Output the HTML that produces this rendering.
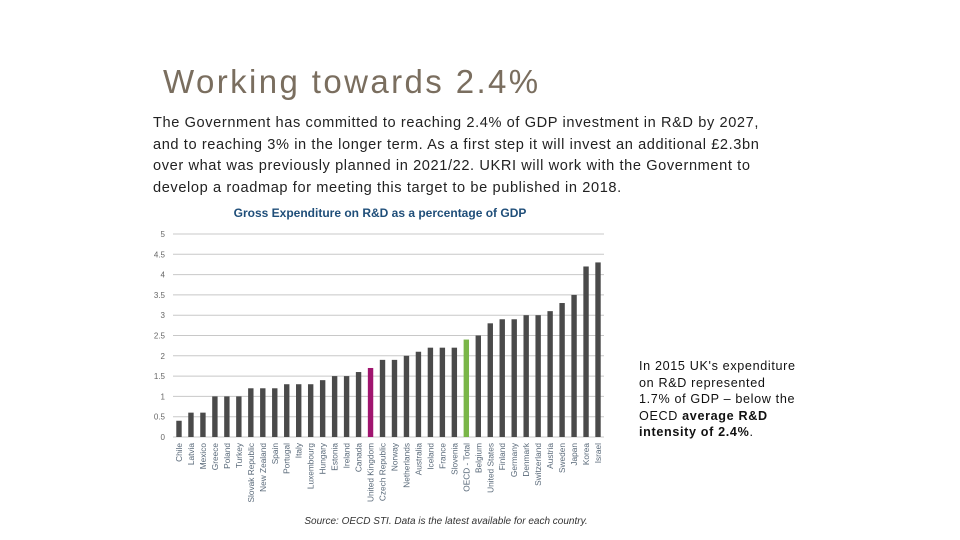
<!DOCTYPE html>
<html><head><meta charset="utf-8"><style>
body{margin:0;background:#fff;width:960px;height:540px;overflow:hidden;position:relative;font-family:"Liberation Sans",sans-serif}
#title{position:absolute;left:163px;top:63px;font-size:33px;color:#7a6e5f;margin:0;font-weight:normal;letter-spacing:2.4px;white-space:nowrap}
#body{position:absolute;left:153px;top:113px;width:625px;font-size:14.6px;line-height:21.6px;color:#222;letter-spacing:0.6px}
#note{position:absolute;left:639px;top:358px;width:190px;font-size:12.6px;line-height:16.6px;color:#111;letter-spacing:0.65px;white-space:nowrap}
svg{position:absolute;left:0;top:0}
</style></head><body>
<h1 id="title">Working towards 2.4%</h1>
<div id="body">The Government has committed to reaching 2.4% of GDP investment in R&amp;D by 2027, and to reaching 3% in the longer term. As a first step it will invest an additional £2.3bn over what was previously planned in 2021/22. UKRI will work with the Government to develop a roadmap for meeting this target to be published in 2018.</div>
<div id="note">In 2015 UK's expenditure<br>on R&amp;D represented<br>1.7% of GDP – below the<br>OECD <b>average R&amp;D</b><br><b>intensity of 2.4%</b>.</div>
<svg id="chart" width="960" height="540"></svg>
<script>
const categories=["Chile","Latvia","Mexico","Greece","Poland","Turkey","Slovak Republic","New Zealand","Spain","Portugal","Italy","Luxembourg","Hungary","Estonia","Ireland","Canada","United Kingdom","Czech Republic","Norway","Netherlands","Australia","Iceland","France","Slovenia","OECD - Total","Belgium","United States","Finland","Germany","Denmark","Switzerland","Austria","Sweden","Japan","Korea","Israel"];
const values=[0.4,0.6,0.6,1.0,1.0,1.0,1.2,1.2,1.2,1.3,1.3,1.3,1.4,1.5,1.5,1.6,1.7,1.9,1.9,2.0,2.1,2.2,2.2,2.2,2.4,2.5,2.8,2.9,2.9,3.0,3.0,3.1,3.3,3.5,4.2,4.3];
const ticks=[0,0.5,1,1.5,2,2.5,3,3.5,4,4.5,5];
const ns="http://www.w3.org/2000/svg";
const svg=document.getElementById('chart');
const x0=173,x1=604,yBase=437,yTop=234,ymax=5;
const step=(x1-x0)/categories.length;
const y=v=>yBase-(v/ymax)*(yBase-yTop);
const xc=i=>x0+step*(i+0.5);
function mk(t,a){const e=document.createElementNS(ns,t);for(const k in a)e.setAttribute(k,a[k]);svg.appendChild(e);return e;}
let t=mk('text',{x:380,y:217,'text-anchor':'middle','font-size':'12','font-weight':'bold',fill:'#1f4e79','font-family':'Liberation Sans, sans-serif'});
t.textContent='Gross Expenditure on R&D as a percentage of GDP';


ticks.forEach(v=>{
 const g=mk('line',{x1:x0,x2:x1,y1:y(v),y2:y(v),stroke:'#c8c8c8','stroke-width':'1'});
 
 
 const l=mk('text',{x:165,y:y(v)+3,'text-anchor':'end','font-size':'8',fill:'#666','font-family':'Liberation Sans, sans-serif'});
 l.textContent=String(v);
 
 
});
categories.forEach((c,i)=>{
 const col=c==='United Kingdom'?'#a0156f':(c==='OECD - Total'?'#7ab648':'#4a4a4a');
 const b=mk('rect',{x:xc(i)-2.7,y:y(values[i]),width:5.4,height:yBase-y(values[i]),fill:col});
 
 
 const l=mk('text',{transform:`translate(${xc(i)+3},443) rotate(-90)`,'text-anchor':'end','font-size':'8.3',fill:'#5a6a7a','font-family':'Liberation Sans, sans-serif'});
 l.textContent=c;
 
 
});
t=mk('text',{x:446,y:524,'text-anchor':'middle','font-size':'10','font-style':'italic',fill:'#333','font-family':'Liberation Sans, sans-serif'});
t.textContent='Source: OECD STI. Data is the latest available for each country.';


</script>
</body></html>
